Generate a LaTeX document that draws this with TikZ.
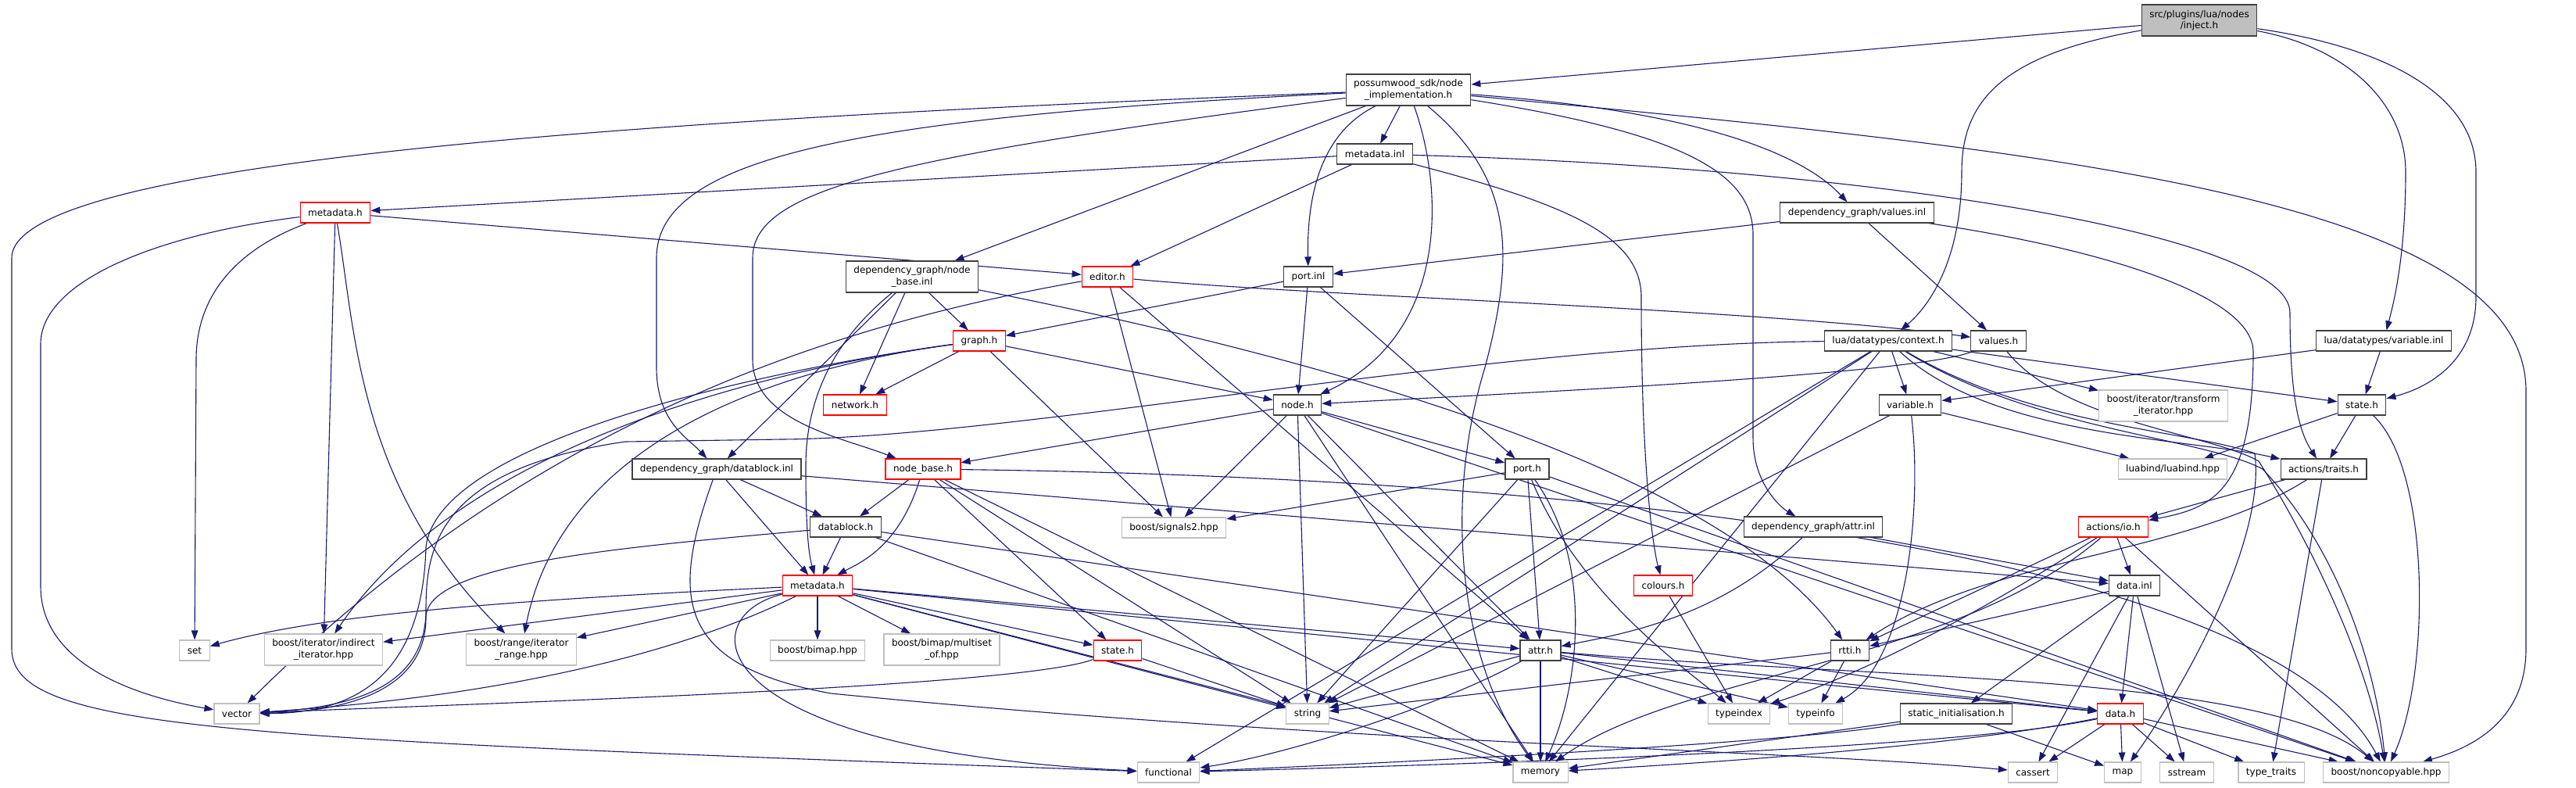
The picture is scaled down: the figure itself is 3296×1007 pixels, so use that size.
\documentclass[tikz,border=0pt]{standalone}
\usepackage{fontspec}
\setmainfont{DejaVu Sans}
\usepackage{tikz}
\usetikzlibrary{arrows.meta}
\definecolor{dgedge}{HTML}{191970}
\definecolor{dgext}{HTML}{BFBFBF}
\definecolor{dgframe}{HTML}{404040}
\pgfdeclarelayer{bg}
\pgfsetlayers{bg,main}

\begin{document}
\begin{tikzpicture}[x=1pt,y=-1pt,
  file/.style={draw=dgframe,fill=white,line width=1.1pt,inner xsep=10pt,inner ysep=0pt,
    minimum height=26pt,align=center,font=\fontsize{12}{14.5}\selectfont},
  tall/.style={minimum height=40pt},
  trunc/.style={file,draw=red},
  ext/.style={file,draw=dgext},
  root/.style={file,fill=dgext},
  dep/.style={draw=dgedge,line width=1.1pt,-{Triangle[length=12pt,width=8.5pt]}}]
  \useasboundingbox (0,0) rectangle (3296,1007);

  \node[root,tall] (inj) at (2814,26) {src/plugins/lua/nodes\\/inject.h};
  \node[file,tall] (impl) at (1802,115) {possumwood\_sdk/node\\\_implementation.h};
  \node[file] (mdinl) at (1759,197) {metadata.inl};
  \node[trunc] (mdtop) at (429,272) {metadata.h};
  \node[file] (valinl) at (2376,272) {dependency\_graph/values.inl};
  \node[file,tall] (nbinl) at (1167,354) {dependency\_graph/node\\\_base.inl};
  \node[trunc] (editor) at (1417,354) {editor.h};
  \node[file] (portinl) at (1674,354) {port.inl};
  \node[trunc] (graph) at (1253,436) {graph.h};
  \node[file] (ctx) at (2416,436) {lua/datatypes/context.h};
  \node[file] (valh) at (2557,436) {values.h};
  \node[file] (varinl) at (3050,436) {lua/datatypes/variable.inl};
  \node[trunc] (network) at (1094,518) {network.h};
  \node[file] (node) at (1660,518) {node.h};
  \node[file] (varh) at (2444,518) {variable.h};
  \node[ext,tall] (tfiter) at (2768,519) {boost/iterator/transform\\\_iterator.hpp};
  \node[file] (lstate) at (3022,518) {state.h};
  \node[file] (dbinl) at (917,600) {dependency\_graph/datablock.inl};
  \node[trunc] (nbh) at (1181,600) {node\_base.h};
  \node[file] (porth) at (1954,600) {port.h};
  \node[ext] (luabind) at (2780,600) {luabind/luabind.hpp};
  \node[file] (traits) at (2973,600) {actions/traits.h};
  \node[file] (dbh) at (1082,674) {datablock.h};
  \node[ext] (signals) at (1502,675) {boost/signals2.hpp};
  \node[file] (attrinl) at (2320,674) {dependency\_graph/attr.inl};
  \node[trunc] (io) at (2704,674) {actions/io.h};
  \node[trunc] (md) at (1046,749) {metadata.h};
  \node[trunc] (colours) at (2128,749) {colours.h};
  \node[file] (datainl) at (2731,749) {data.inl};
  \node[ext] (set) at (249,832) {set};
  \node[ext,tall] (indirect) at (414,831) {boost/iterator/indirect\\\_iterator.hpp};
  \node[ext,tall] (range) at (667,831) {boost/range/iterator\\\_range.hpp};
  \node[ext] (bimap) at (1046,832) {boost/bimap.hpp};
  \node[ext,tall] (multiset) at (1205,831) {boost/bimap/multiset\\\_of.hpp};
  \node[trunc] (dstate) at (1430,832) {state.h};
  \node[file] (attrh) at (1971,832) {attr.h};
  \node[file] (rtti) at (2367,832) {rtti.h};
  \node[ext] (vector) at (303,913) {vector};
  \node[ext] (string) at (1673,913) {string};
  \node[ext] (typeindex) at (2225,913) {typeindex};
  \node[ext] (typeinfo) at (2323,913) {typeinfo};
  \node[file] (sinit) at (2503,913) {static\_initialisation.h};
  \node[trunc] (datah) at (2713,913) {data.h};
  \node[ext] (functional) at (1495,988) {functional};
  \node[ext] (memory) at (1971,988) {memory};
  \node[ext] (cassert) at (2601,988) {cassert};
  \node[ext] (map) at (2716,988) {map};
  \node[ext] (sstream) at (2798,988) {sstream};
  \node[ext] (typetraits) at (2906,988) {type\_traits};
  \node[ext] (noncopy) at (3053,988) {boost/noncopyable.hpp};

  \begin{pgfonlayer}{bg}
  \fill[white] (0,0) rectangle (3296,1007);
  % inject.h
  \draw[dep] (inj) -- (impl);
  \draw[dep] (inj) .. controls (2560,70) and (2510,130) .. (2510,220) .. controls (2510,330) and (2470,390) .. (ctx);
  \draw[dep] (inj) .. controls (3000,60) and (3078,130) .. (3078,220) .. controls (3078,330) and (3062,390) .. (varinl);
  \draw[dep] (inj) .. controls (3050,60) and (3168,120) .. (3168,220) -- (3168,380) .. controls (3168,460) and (3110,495) .. (lstate);
  % node_implementation.h
  \draw[dep] (impl) .. controls (900,150) and (15,200) .. (15,330) -- (15,830) .. controls (15,935) and (300,945) .. (functional);
  \draw[dep] (impl) .. controls (1100,150) and (840,200) .. (840,330) -- (840,470) .. controls (840,540) and (880,560) .. (dbinl);
  \draw[dep] (impl) .. controls (1150,200) and (963,240) .. (963,330) -- (963,460) .. controls (963,540) and (1080,560) .. (nbh);
  \foreach \t in {nbinl,mdinl} \draw[dep] (impl) -- (\t);
  \draw[dep] (impl) .. controls (1690,170) and (1672,250) .. (portinl);
  \draw[dep] (impl) .. controls (1850,250) and (1850,430) .. (node);
  \draw[dep] (impl) .. controls (1940,230) and (1937,330) .. (1900,470) .. controls (1845,650) and (1870,850) .. (memory);
  \draw[dep] (impl) .. controls (2150,140) and (2300,190) .. (valinl);
  \draw[dep] (impl) .. controls (2150,170) and (2243,220) .. (2243,300) -- (2243,560) .. controls (2243,620) and (2280,650) .. (attrinl);
  \draw[dep] (impl) .. controls (2600,190) and (3232,250) .. (3232,500) -- (3232,830) .. controls (3232,930) and (3150,960) .. (noncopy);
  % metadata.inl, metadata.h, editor.h
  \foreach \t in {mdtop,editor} \draw[dep] (mdinl) -- (\t);
  \draw[dep] (mdinl) .. controls (2000,260) and (2100,300) .. (2100,380) .. controls (2100,600) and (2115,700) .. (colours);
  \draw[dep] (mdinl) .. controls (2400,215) and (2930,300) .. (2930,400) .. controls (2930,500) and (2940,550) .. (traits);
  \draw[dep] (mdtop) -- (editor);
  \draw[dep] (mdtop) .. controls (200,300) and (52,360) .. (52,440) -- (52,750) .. controls (52,860) and (200,895) .. (vector);
  \draw[dep] (mdtop) .. controls (300,320) and (251,380) .. (251,460) -- (set);
  \draw[dep] (mdtop) -- (indirect);
  \draw[dep] (mdtop) .. controls (455,420) and (455,620) .. (range);
  \draw[dep] (editor) .. controls (1100,410) and (700,520) .. (vector);
  \foreach \t in {signals,attrh} \draw[dep] (editor) -- (\t);
  \draw[dep] (editor) .. controls (1700,380) and (2250,395) .. (valh);
  % node_base.inl, port.inl, values
  \foreach \t in {graph,network,dbinl} \draw[dep] (nbinl) -- (\t);
  \draw[dep] (nbinl) .. controls (1060,440) and (1030,520) .. (1031,600) .. controls (1031,680) and (1035,710) .. (md);
  \draw[dep] (nbinl) .. controls (1700,460) and (2200,600) .. (rtti);
  \foreach \t in {graph,node,porth} \draw[dep] (portinl) -- (\t);
  \foreach \t in {portinl,valh} \draw[dep] (valinl) -- (\t);
  \draw[dep] (valinl) .. controls (2700,320) and (2883,380) .. (2883,450) .. controls (2883,630) and (2830,650) .. (io);
  \draw[dep] (valh) .. controls (2450,480) and (1900,505) .. (node);
  \draw[dep] (valh) .. controls (2640,540) and (2830,555) .. (2890,590) .. controls (2960,700) and (3030,850) .. (noncopy);
  % lua
  \foreach \t in {varh,lstate,tfiter,string,memory,functional} \draw[dep] (ctx) -- (\t);
  \draw[dep] (ctx) .. controls (2550,560) and (2800,560) .. (traits);
  \draw[dep] (ctx) .. controls (2600,545) and (2800,550) .. (2885,580) .. controls (2900,700) and (2780,900) .. (map);
  \draw[dep] (ctx) .. controls (2600,550) and (2820,560) .. (2895,600) .. controls (2990,700) and (3040,850) .. (noncopy);
  \draw[dep] (ctx) .. controls (1900,440) and (1300,560) .. (1000,562) -- (800,565) .. controls (560,600) and (545,700) .. (545,780) .. controls (545,880) and (450,905) .. (vector);
  \foreach \t in {varh,lstate} \draw[dep] (varinl) -- (\t);
  \foreach \t in {luabind,traits} \draw[dep] (lstate) -- (\t);
  \draw[dep] (lstate) .. controls (3110,600) and (3110,860) .. (noncopy);
  \foreach \t in {luabind,string} \draw[dep] (varh) -- (\t);
  \draw[dep] (varh) .. controls (2460,650) and (2440,850) .. (typeinfo);
  % graph.h, node.h, node_base.h
  \foreach \t in {network,node,signals} \draw[dep] (graph) -- (\t);
  \draw[dep] (graph) .. controls (1000,470) and (600,560) .. (indirect);
  \draw[dep] (graph) .. controls (1000,470) and (720,560) .. (range);
  \draw[dep] (graph) .. controls (1000,470) and (560,560) .. (545,700) .. controls (540,870) and (450,912) .. (vector);
  \foreach \t in {nbh,porth,signals,memory,attrh,string,noncopy} \draw[dep] (node) -- (\t);
  \foreach \t in {dbh,dstate,string,memory} \draw[dep] (nbh) -- (\t);
  \draw[dep] (nbh) .. controls (1150,700) and (1100,720) .. (md);
  \draw[dep] (nbh) .. controls (2000,610) and (2900,700) .. (noncopy);
  % datablock
  \foreach \t in {dbh,md,datainl} \draw[dep] (dbinl) -- (\t);
  \draw[dep] (dbinl) .. controls (860,760) and (860,850) .. (1063,887) .. controls (1700,950) and (2300,960) .. (cassert);
  \foreach \t in {md,memory,datah} \draw[dep] (dbh) -- (\t);
  \draw[dep] (dbh) .. controls (800,700) and (545,720) .. (545,790) .. controls (545,880) and (450,910) .. (vector);
  % metadata.h
  \foreach \t in {range,indirect,bimap,multiset,dstate,attrh,datah,string,memory} \draw[dep] (md) -- (\t);
  \draw[dep] (md) .. controls (600,770) and (400,790) .. (set);
  \draw[dep] (md) .. controls (800,870) and (500,900) .. (vector);
  \draw[dep] (md) .. controls (880,790) and (900,960) .. (functional);
  \draw[dep] (dstate) .. controls (1300,880) and (600,900) .. (vector);
  \draw[dep] (dstate) -- (string);
  % port.h, attr
  \foreach \t in {signals,attrh,string,noncopy} \draw[dep] (porth) -- (\t);
  \draw[dep] (porth) .. controls (2040,720) and (2020,880) .. (memory);
  \draw[dep] (porth) .. controls (2020,760) and (2150,850) .. (typeindex);
  \draw[dep] (attrinl) .. controls (2200,790) and (2080,810) .. (attrh);
  \draw[dep] (attrinl) -- (datainl);
  \foreach \t in {string,memory,typeindex,typeinfo,datah} \draw[dep] (attrh) -- (\t);
  \draw[dep] (attrh) .. controls (1850,900) and (1650,965) .. (functional);
  \draw[dep] (attrh) .. controls (2400,870) and (2900,860) .. (noncopy);
  % rtti, io, data
  \foreach \t in {string,typeindex,typeinfo} \draw[dep] (rtti) -- (\t);
  \foreach \t in {rtti,datainl,noncopy} \draw[dep] (io) -- (\t);
  \draw[dep] (io) .. controls (2480,820) and (2330,880) .. (typeindex);
  \draw[dep] (io) .. controls (2500,850) and (2150,860) .. (memory);
  \foreach \t in {datah,rtti,sinit,cassert,sstream} \draw[dep] (datainl) -- (\t);
  \foreach \t in {cassert,map,sstream,typetraits,noncopy} \draw[dep] (datah) -- (\t);
  \draw[dep] (datah) .. controls (2500,960) and (1800,980) .. (functional);
  \draw[dep] (datah) .. controls (2500,955) and (2200,975) .. (memory);
  \draw[dep] (sinit) .. controls (2300,950) and (1800,975) .. (functional);
  \foreach \t in {memory,map} \draw[dep] (sinit) -- (\t);
  \draw[dep] (colours) -- (typeindex);
  \draw[dep] (traits) -- (io);
  \draw[dep] (traits) .. controls (2800,710) and (2550,712) .. (rtti);
  \draw[dep] (traits) -- (typetraits);
  \end{pgfonlayer}
\end{tikzpicture}
\end{document}
